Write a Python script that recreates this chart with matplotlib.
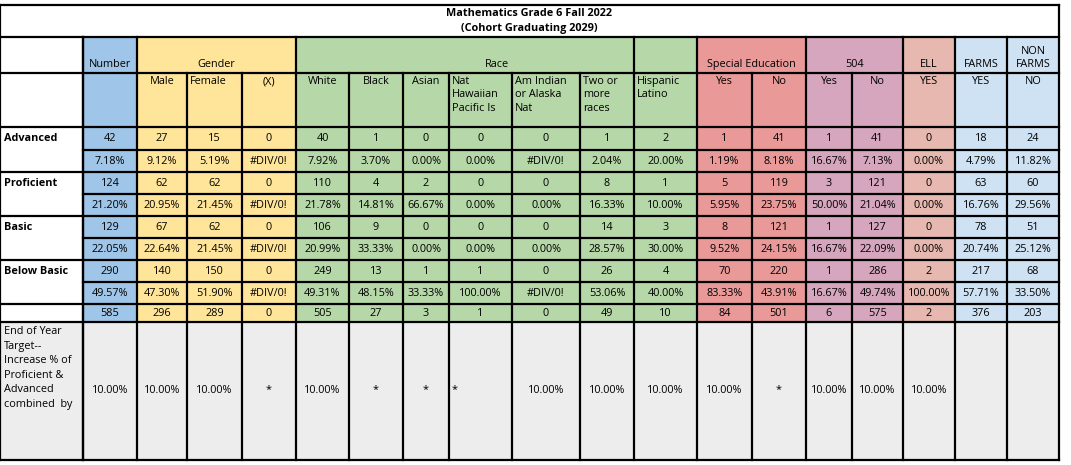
import matplotlib
matplotlib.use("Agg")
import matplotlib.pyplot as plt

title = ["Mathematics Grade 6 Fall 2022", "(Cohort Graduating 2029)"]
groups = [("Number", 1), ("Gender", 3), ("Race", 7), ("Special Education", 2), ("504", 2), ("ELL", 1), ("FARMS", 1), ("NON\nFARMS", 1)]
subheads = ["", "Male", "Female", "(X)", "White", "Black", "Asian", "Nat\nHawaiian\nPacific Is", "Am Indian\nor Alaska\nNat",
            "Two or\nmore\nraces", "Hispanic\nLatino", "Yes", "No", "Yes", "No", "YES", "YES", "NO"]
left_sub = {2, 7, 8, 9, 10}
row_labels = ["Advanced", "", "Proficient", "", "Basic", "", "Below Basic", "", ""]
advanced = ["42","27","15","0","40","1","0","0","0","1","2","1","41","1","41","0","18","24"]
adv_pct = ["7.18%","9.12%","5.19%","#DIV/0!","7.92%","3.70%","0.00%","0.00%","#DIV/0!","2.04%","20.00%","1.19%","8.18%","16.67%","7.13%","0.00%","4.79%","11.82%"]
proficient = ["124","62","62","0","110","4","2","0","0","8","1","5","119","3","121","0","63","60"]
prof_pct = ["21.20%","20.95%","21.45%","#DIV/0!","21.78%","14.81%","66.67%","0.00%","0.00%","16.33%","10.00%","5.95%","23.75%","50.00%","21.04%","0.00%","16.76%","29.56%"]
basic = ["129","67","62","0","106","9","0","0","0","14","3","8","121","1","127","0","78","51"]
basic_pct = ["22.05%","22.64%","21.45%","#DIV/0!","20.99%","33.33%","0.00%","0.00%","0.00%","28.57%","30.00%","9.52%","24.15%","16.67%","22.09%","0.00%","20.74%","25.12%"]
below = ["290","140","150","0","249","13","1","1","0","26","4","70","220","1","286","2","217","68"]
below_pct = ["49.57%","47.30%","51.90%","#DIV/0!","49.31%","48.15%","33.33%","100.00%","#DIV/0!","53.06%","40.00%","83.33%","43.91%","16.67%","49.74%","100.00%","57.71%","33.50%"]
totals = ["585","296","289","0","505","27","3","1","0","49","10","84","501","6","575","2","376","203"]
target_label = "End of Year\nTarget--\nIncrease % of\nProficient &\nAdvanced\ncombined  by"
target = ["10.00%","10.00%","10.00%","*","10.00%","*","*","*","10.00%","10.00%","10.00%","10.00%","*","10.00%","10.00%","10.00%","",""]

data_rows = [advanced, adv_pct, proficient, prof_pct, basic, basic_pct, below, below_pct, totals]

xs = [0, 83, 137, 187, 242, 296, 349, 403, 449, 512, 580, 634, 697, 752, 806, 852, 903, 955, 1007, 1059]
ys_rows = [127, 150, 172, 194, 216, 238, 260, 282, 304, 322]
colors = ["#9FC5E8"] + ["#FFE599"]*3 + ["#B6D7A8"]*7 + ["#EA9999"]*2 + ["#D5A6BD"]*2 + ["#E6B8AF"] + ["#CFE2F3"]*2

fig = plt.figure(figsize=(10.71, 4.65), dpi=100)
ax = fig.add_axes([0, 0, 1, 1])
ax.set_xlim(0, 1071); ax.set_ylim(465, 0); ax.axis("off")
fs = 7.8
fam = "Open Sans"

for i, c in enumerate(colors):
    ax.add_patch(plt.Rectangle((xs[i+1], 37), xs[i+2]-xs[i+1], 322-37, color=c, lw=0))
ax.add_patch(plt.Rectangle((0, 322), 1059, 460-322, color="#EDEDED", lw=0))

lk = dict(color="black", lw=1.6)
ax.plot([0, 1059], [5, 5], **lk); ax.plot([0, 1059], [37, 37], **lk)
ax.plot([0, 0], [5, 460], **lk); ax.plot([1059, 1059], [5, 460], **lk)
ax.text(529, 14, title[0], ha="center", va="center", fontsize=fs, fontweight="bold", family=fam)
ax.text(529, 29, title[1], ha="center", va="center", fontsize=fs, fontweight="bold", family=fam)
col = 0
for name, span in groups:
    x0, x1 = xs[col+1], xs[col+1+span]
    ax.plot([x0, x0], [37, 73], **lk)
    ax.text((x0+x1)/2, 70, name, ha="center", va="bottom", fontsize=fs, family=fam, linespacing=1.3)
    col += span
ax.plot([634, 634], [37, 73], **lk)
ax.plot([83, 83], [37, 460], **lk)
ax.plot([0, 1059], [73, 73], **lk)
for i in range(1, len(xs)-1):
    ax.plot([xs[i], xs[i]], [73, 460], **lk)
for i, s in enumerate(subheads):
    x0, x1 = xs[i+1], xs[i+2]
    if i in left_sub:
        ax.text(x0+3, 76, s, ha="left", va="top", fontsize=fs, family=fam, linespacing=1.3)
    else:
        ax.text((x0+x1)/2, 76, s, ha="center", va="top", fontsize=fs, family=fam, linespacing=1.3)
ax.plot([0, 1059], [127, 127], **lk)
for k, y in enumerate(ys_rows[1:]):
    x0 = 83 if k % 2 == 0 and k < 8 else 0
    ax.plot([x0, 1059], [y, y], **lk)
ax.plot([0, 1059], [460, 460], **lk)

for r, row in enumerate(data_rows):
    yc = (ys_rows[r] + ys_rows[r+1]) / 2
    if row_labels[r]:
        ax.text(4, yc, row_labels[r], ha="left", va="center", fontsize=fs, fontweight="bold", family=fam)
    for i, v in enumerate(row):
        ax.text((xs[i+1]+xs[i+2])/2, yc, v, ha="center", va="center", fontsize=fs, family=fam)

ax.text(4, 326, target_label, ha="left", va="top", fontsize=fs, family=fam, linespacing=1.45)
for i, v in enumerate(target):
    if i == 7:
        ax.text(xs[i+1]+3, 390, v, ha="left", va="center", fontsize=fs, family=fam)
    else:
        ax.text((xs[i+1]+xs[i+2])/2, 390, v, ha="center", va="center", fontsize=fs, family=fam)

fig.savefig("out.png", dpi=100)
